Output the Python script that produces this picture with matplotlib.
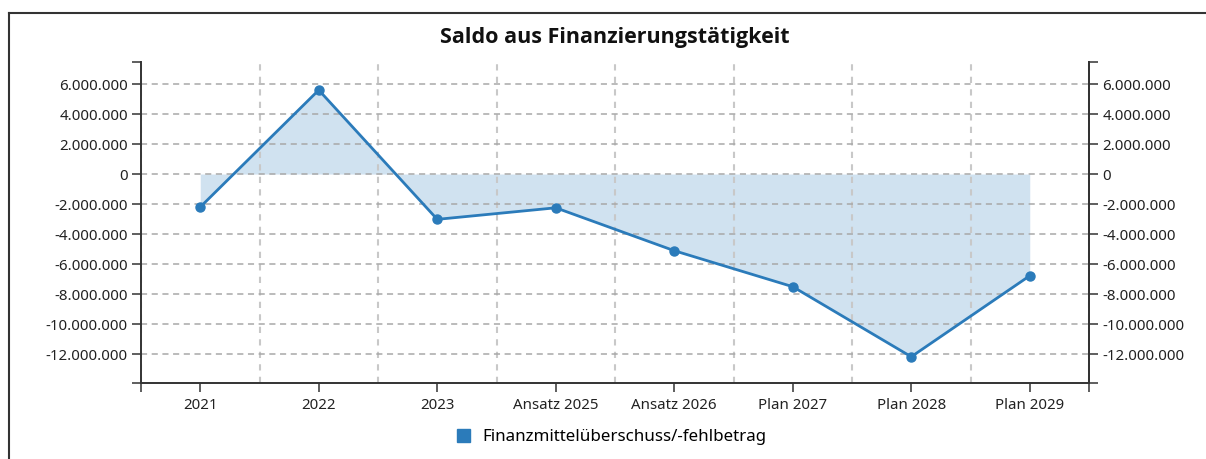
import matplotlib
matplotlib.use("Agg")
import matplotlib.pyplot as plt
from matplotlib.patches import Patch
from matplotlib.ticker import FuncFormatter
from matplotlib.lines import Line2D

plt.rcParams['font.family'] = ['Noto Sans', 'DejaVu Sans']

kategorien = ["2021", "2022", "2023", "Ansatz 2025", "Ansatz 2026",
              "Plan 2027", "Plan 2028", "Plan 2029"]
saldo = [-2200000, 5600000, -3020000, -2250000, -5110000,
         -7510000, -12180000, -6780000]
y_ticks = [-12000000, -10000000, -8000000, -6000000, -4000000,
           -2000000, 0, 2000000, 4000000, 6000000]
y_min, y_max = -13930000, 7470000

blau = "#2b7bba"
hell = "#d0e2f0"
text_col = "#222222"


def fmt(v, pos=None):
    return f"{int(round(v)):,}".replace(",", ".")


fig = plt.figure(figsize=(12.06, 4.59), dpi=100)
ax = fig.add_axes([141 / 1206, 1 - 383 / 459, (1089 - 141) / 1206, (383 - 62) / 459])

x = list(range(len(kategorien)))
ax.fill_between(x, saldo, 0, color=hell, linewidth=0, zorder=0.3)
ax.plot(x, saldo, color=blau, lw=2, marker="o", markersize=6.5, zorder=3)

ax.set_xlim(-0.5, len(kategorien) - 0.5)
ax.set_ylim(y_min, y_max)
ax.set_xticks(x)
ax.set_xticklabels(kategorien)
ax.set_xticks([i - 0.5 for i in range(len(kategorien) + 1)], minor=True)
ax.set_yticks(y_ticks)
ax.set_yticks([y_min, y_max], minor=True)
ax.yaxis.set_major_formatter(FuncFormatter(fmt))

ax.set_axisbelow(True)
ax.grid(axis="y", which="major", color="#a8a8a8", linestyle=(0, (4, 3)), lw=1.1)
ax.grid(axis="x", which="minor", color="#c8c8c8", linestyle=(0, (3, 3)), lw=1.5)
ax.grid(axis="x", which="major", visible=False)

ax.spines["top"].set_visible(False)
for s in ["left", "right", "bottom"]:
    ax.spines[s].set_linewidth(1.4)
    ax.spines[s].set_color("#333333")

ax.tick_params(axis="both", which="both", direction="out", length=6.5, width=1.1,
               color="#333333", labelsize=10.8, labelcolor=text_col, pad=3)
ax.tick_params(axis="x", which="major", pad=4)
for i, t in enumerate(ax.xaxis.get_minor_ticks()):
    if 0 < i < len(kategorien):
        t.tick1line.set_visible(False)

ax2 = ax.twinx()
ax2.set_ylim(y_min, y_max)
ax2.set_yticks(y_ticks)
ax2.set_yticks([y_min, y_max], minor=True)
ax2.yaxis.set_major_formatter(FuncFormatter(fmt))
ax2.tick_params(axis="y", which="both", direction="out", length=6.5, width=1.1,
                color="#333333", labelsize=10.8, labelcolor=text_col, pad=3)
for s in ["top", "left", "bottom"]:
    ax2.spines[s].set_visible(False)
ax2.spines["right"].set_linewidth(1.4)
ax2.spines["right"].set_color("#333333")

fig.text(0.51, 1 - 38 / 459, "Saldo aus Finanzierungstätigkeit", ha="center",
         va="center", fontsize=15.5, fontweight="bold", color="#111111",
         family=["Open Sans", "DejaVu Sans"])

handle = Patch(facecolor=blau, edgecolor=blau)
fig.legend([handle], ["Finanzmittelüberschuss/-fehlbetrag"], loc="center",
           bbox_to_anchor=(0.507, 1 - 437 / 459), frameon=False, fontsize=12.2,
           handlelength=0.8, handleheight=0.8, handletextpad=0.7)

# Rahmen oben und links
fig.add_artist(Line2D([9 / 1206, 1], [1 - 13 / 459, 1 - 13 / 459],
                      transform=fig.transFigure, color="#333333", lw=1.5))
fig.add_artist(Line2D([9 / 1206, 9 / 1206], [0, 1 - 13 / 459],
                      transform=fig.transFigure, color="#333333", lw=1.5))

fig.savefig("out.png", dpi=100)
